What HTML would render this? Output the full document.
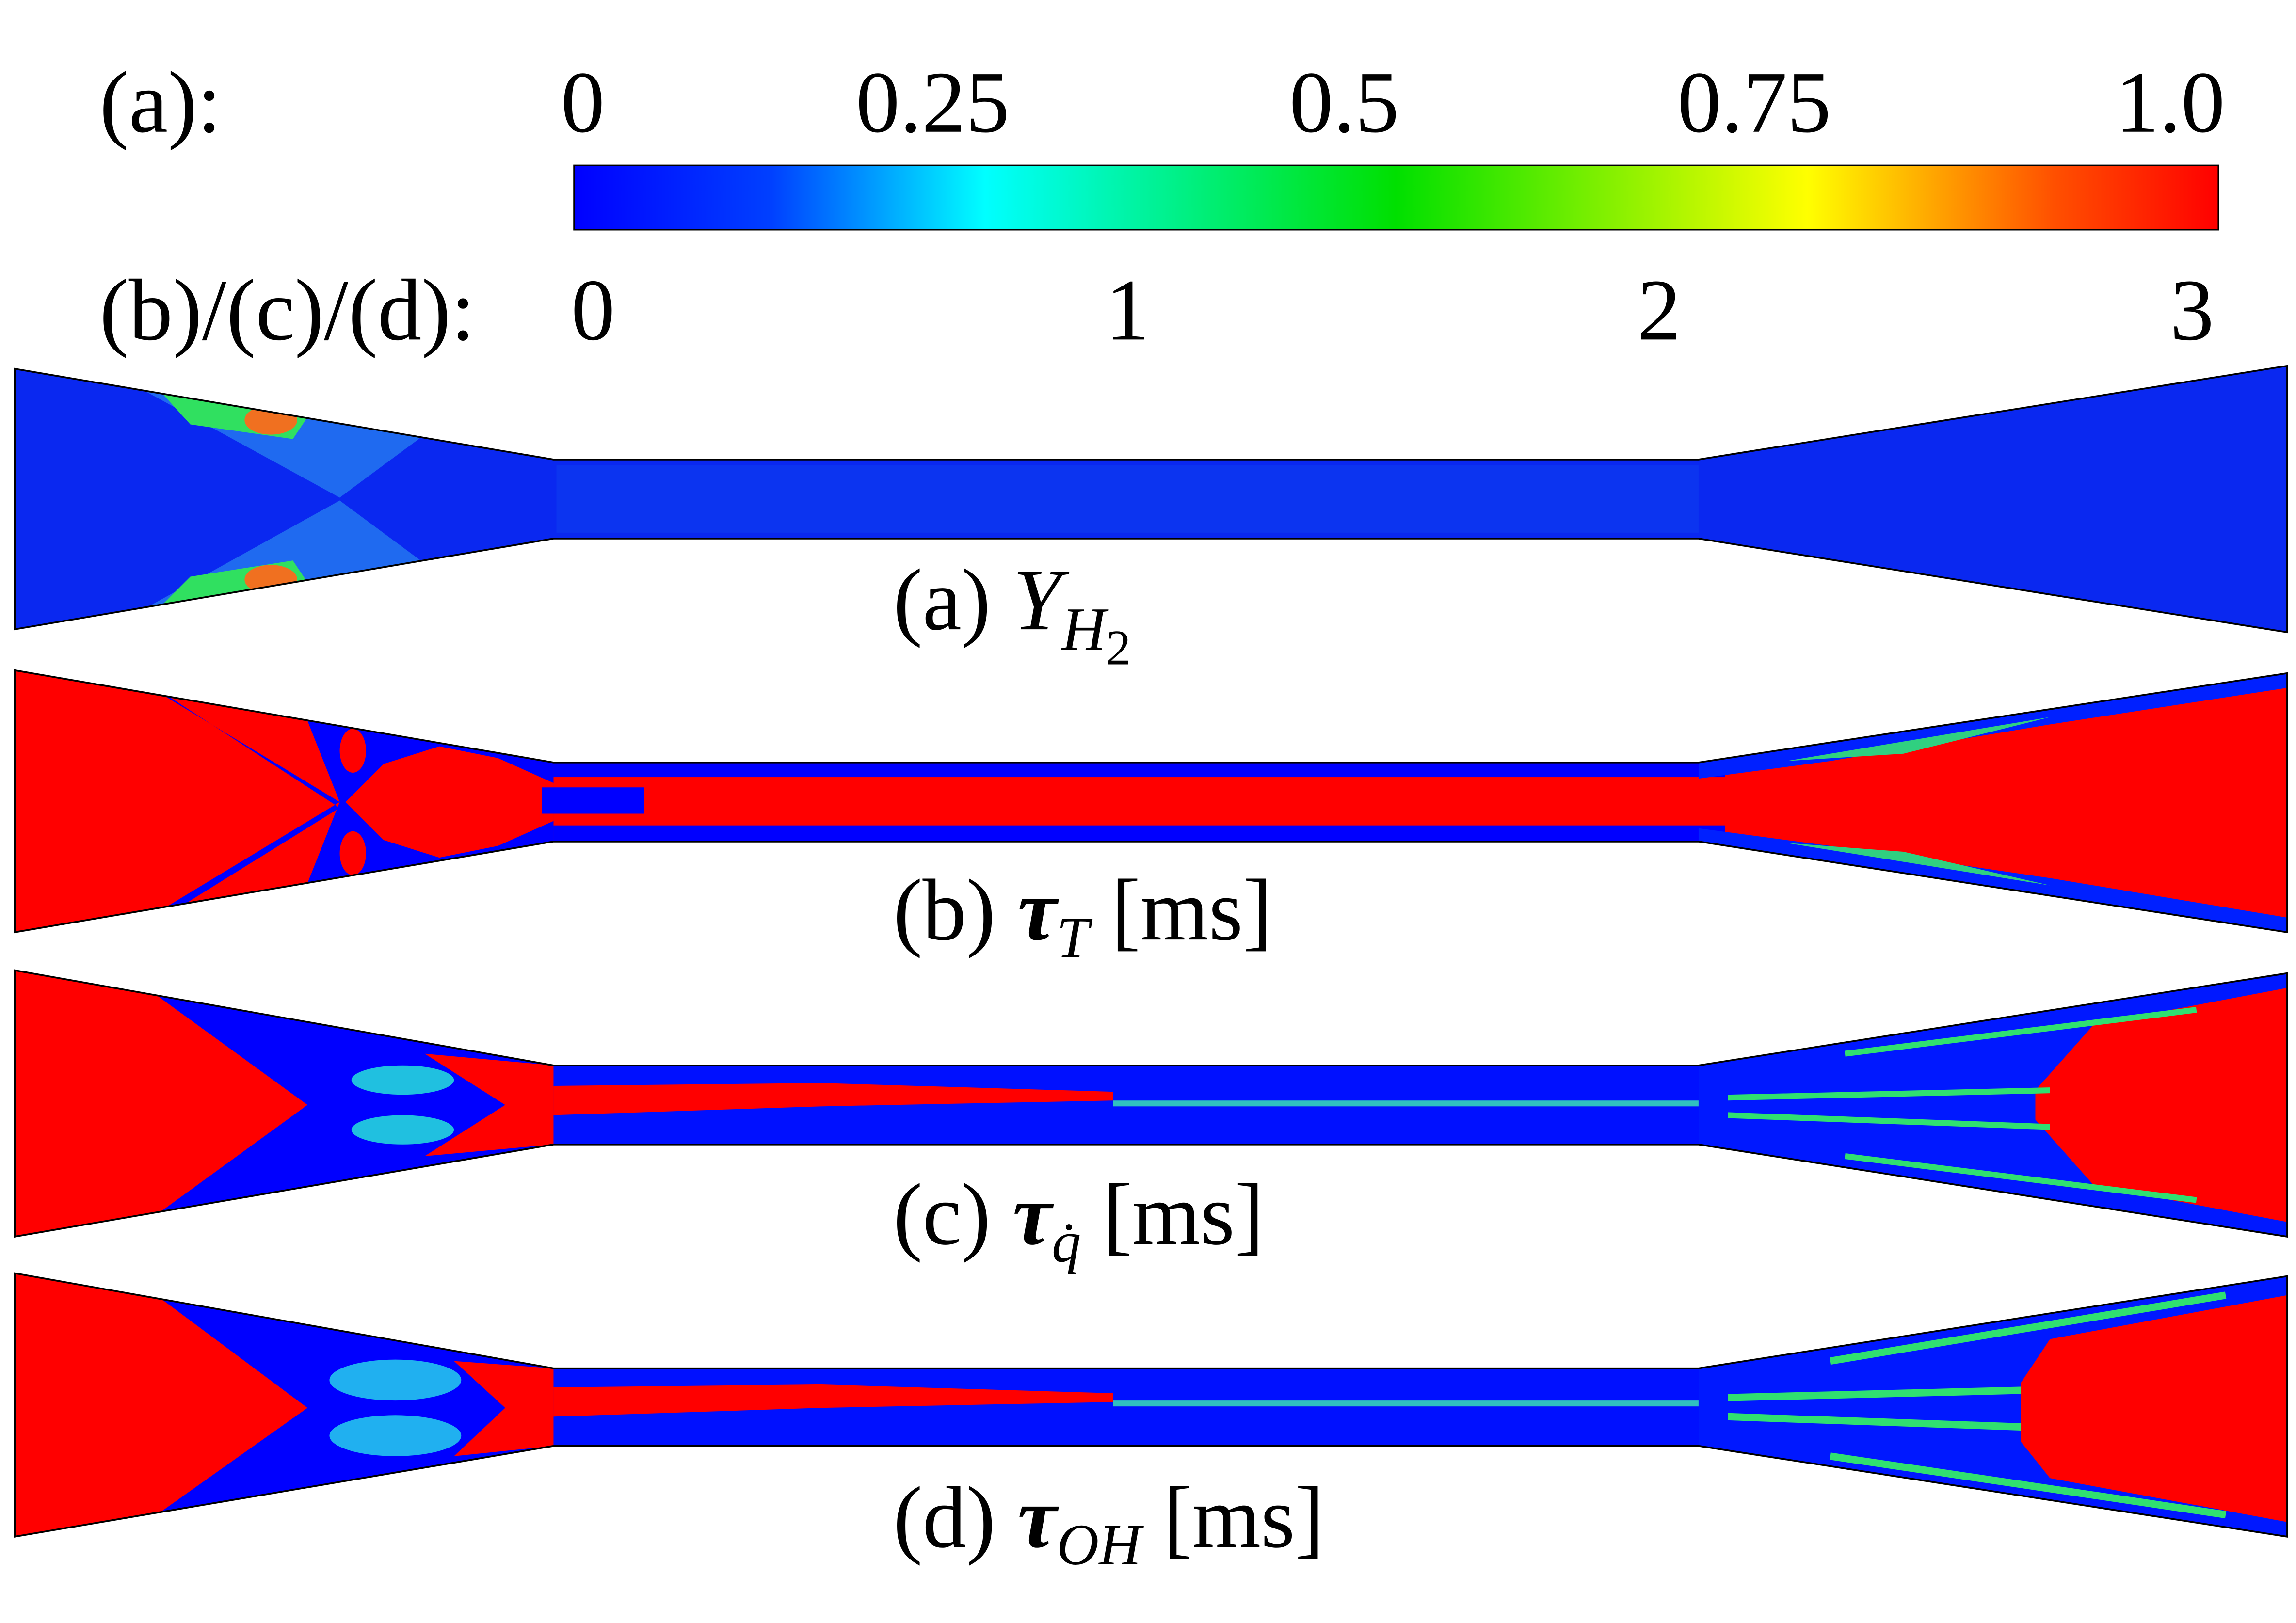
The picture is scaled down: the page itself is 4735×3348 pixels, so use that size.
<!DOCTYPE html>
<html><head><meta charset="utf-8"><style>
html,body{margin:0;padding:0;background:#fff;}
svg{display:block;}
text{font-family:"Liberation Serif",serif;fill:#000;}
</style></head><body>
<svg width="4735" height="3348" viewBox="0 0 1568 1109" preserveAspectRatio="none" xmlns="http://www.w3.org/2000/svg">
<defs>
<linearGradient id="cb" x1="0" x2="1" y1="0" y2="0">
<stop offset="0" stop-color="#0000ff"/>
<stop offset="0.12" stop-color="#0040ff"/>
<stop offset="0.25" stop-color="#00ffff"/>
<stop offset="0.5" stop-color="#00e000"/>
<stop offset="0.75" stop-color="#ffff00"/>
<stop offset="0.9" stop-color="#ff5000"/>
<stop offset="1" stop-color="#ff0000"/>
</linearGradient>
<clipPath id="pa"><polygon points="10,252 378,314 1160,314 1562,250 1562,432 1160,368 378,368 10,430"/></clipPath>
<clipPath id="pb"><polygon points="10,458 378,521 1160,521 1562,460 1562,637 1160,575 378,575 10,637"/></clipPath>
<clipPath id="pc"><polygon points="10,663 378,728 1160,728 1562,665 1562,845 1160,782 378,782 10,845"/></clipPath>
<clipPath id="pd"><polygon points="10,870 378,935 1160,935 1562,872 1562,1050 1160,988 378,988 10,1050"/></clipPath>
</defs>

<text x="68" y="90" font-size="60">(a):</text>
<text x="398" y="90" font-size="60" text-anchor="middle">0</text>
<text x="637" y="90" font-size="60" text-anchor="middle">0.25</text>
<text x="918" y="90" font-size="60" text-anchor="middle">0.5</text>
<text x="1198" y="90" font-size="60" text-anchor="middle">0.75</text>
<text x="1482" y="90" font-size="60" text-anchor="middle">1.0</text>
<rect x="392" y="113" width="1123" height="44" fill="url(#cb)" stroke="#000" stroke-width="1"/>
<text x="68" y="232" font-size="60">(b)/(c)/(d):</text>
<text x="405" y="232" font-size="60" text-anchor="middle">0</text>
<text x="770" y="232" font-size="60" text-anchor="middle">1</text>
<text x="1133" y="232" font-size="60" text-anchor="middle">2</text>
<text x="1497" y="232" font-size="60" text-anchor="middle">3</text>

<!-- Panel a -->
<g clip-path="url(#pa)">
<rect x="0" y="240" width="1568" height="200" fill="#0a28f0"/>
<polygon points="95,265 290,297 232,340 " fill="#1f6af0"/>
<polygon points="95,418 290,385 232,342" fill="#1f6af0"/>
<polygon points="110,268 210,285 200,300 130,290" fill="#30e060"/>
<polygon points="110,414 210,398 200,383 130,394" fill="#30e060"/>
<ellipse cx="185" cy="287" rx="18" ry="10" fill="#f07020"/>
<ellipse cx="185" cy="396" rx="18" ry="10" fill="#f07020"/>
<rect x="380" y="318" width="780" height="46" fill="#0c34f0"/>
</g>
<polygon points="10,252 378,314 1160,314 1562,250 1562,432 1160,368 378,368 10,430" fill="none" stroke="#000" stroke-width="1.2"/>
<text x="610" y="430" font-size="60">(a) <tspan font-style="italic">Y</tspan><tspan font-style="italic" font-size="42" dy="14">H</tspan><tspan font-size="34" dy="10">2</tspan></text>

<!-- Panel b -->
<g clip-path="url(#pb)">
<rect x="0" y="450" width="1568" height="200" fill="#ff0000"/>
<polygon points="205,480 378,521 378,575 205,616 232,548" fill="#0000ff"/>
<polygon points="236,548 262,522 300,510 340,518 378,535 378,561 340,578 300,586 262,574" fill="#ff0000"/>
<polygon points="90,462 232,548 90,634 100,634 232,552 100,466" fill="#0000ff"/>
<ellipse cx="241" cy="513" rx="9" ry="15" fill="#ff0000"/>
<ellipse cx="241" cy="583" rx="9" ry="15" fill="#ff0000"/>
<rect x="378" y="521" width="800" height="10" fill="#0000ff"/>
<rect x="378" y="564" width="800" height="11" fill="#0000ff"/>
<polygon points="370,538 440,538 440,556 370,556" fill="#0000ff"/>
<polygon points="1160,521 1562,460 1562,470 1400,495 1250,520 1160,532" fill="#0020ff"/>
<polygon points="1160,575 1562,637 1562,627 1400,600 1250,578 1160,566" fill="#0020ff"/>
<polygon points="1220,520 1400,490 1300,515" fill="#30d080"/>
<polygon points="1220,576 1400,605 1300,582" fill="#30d080"/>
</g>
<polygon points="10,458 378,521 1160,521 1562,460 1562,637 1160,575 378,575 10,637" fill="none" stroke="#000" stroke-width="1.2"/>
<text x="610" y="642" font-size="60">(b) <tspan font-style="italic" font-weight="bold">τ</tspan><tspan font-style="italic" font-size="40" dy="12">T</tspan><tspan dy="-12"> [ms]</tspan></text>

<!-- Panel c -->
<g clip-path="url(#pc)">
<rect x="0" y="655" width="1568" height="200" fill="#ff0000"/>
<polygon points="100,675 378,728 378,782 100,835 210,755" fill="#0000ff"/>
<polygon points="290,720 378,728 378,782 290,790 345,755" fill="#ff0000"/>
<ellipse cx="275" cy="738" rx="35" ry="10" fill="#20c0e0"/>
<ellipse cx="275" cy="772" rx="35" ry="10" fill="#20c0e0"/>
<rect x="378" y="728" width="800" height="54" fill="#0010ff"/>
<polygon points="378,742 560,740 760,746 760,752 560,756 378,762" fill="#ff0000"/>
<rect x="760" y="752" width="400" height="4" fill="#30c0c0"/>
<polygon points="1160,728 1562,665 1562,845 1160,782" fill="#0018ff"/>
<polygon points="1390,745 1430,700 1562,675 1562,835 1430,810 1390,765" fill="#ff0000"/>
<path d="M1260,720 L1500,690 M1260,790 L1500,820 M1180,750 L1400,745 M1180,762 L1400,770" stroke="#30e070" stroke-width="4" fill="none"/>
</g>
<polygon points="10,663 378,728 1160,728 1562,665 1562,845 1160,782 378,782 10,845" fill="none" stroke="#000" stroke-width="1.2"/>
<text x="610" y="850" font-size="60">(c) <tspan font-style="italic" font-weight="bold">τ</tspan><tspan font-style="italic" font-size="40" dy="12">q̇</tspan><tspan dy="-12"> [ms]</tspan></text>

<!-- Panel d -->
<g clip-path="url(#pd)">
<rect x="0" y="860" width="1568" height="200" fill="#ff0000"/>
<polygon points="100,880 378,935 378,988 100,1040 210,962" fill="#0000ff"/>
<ellipse cx="270" cy="943" rx="45" ry="14" fill="#20b0f0"/>
<ellipse cx="270" cy="981" rx="45" ry="14" fill="#20b0f0"/>
<polygon points="310,930 378,935 378,988 310,995 345,962" fill="#ff0000"/>
<rect x="378" y="935" width="800" height="53" fill="#0010ff"/>
<polygon points="378,948 560,946 760,952 760,958 560,962 378,968" fill="#ff0000"/>
<rect x="760" y="957" width="400" height="4" fill="#30c0c0"/>
<polygon points="1160,935 1562,872 1562,1050 1160,988" fill="#0018ff"/>
<polygon points="1380,945 1400,915 1562,885 1562,1040 1400,1010 1380,985" fill="#ff0000"/>
<path d="M1250,930 L1520,885 M1250,995 L1520,1035 M1180,955 L1380,950 M1180,968 L1380,975" stroke="#30e070" stroke-width="5" fill="none"/>
</g>
<polygon points="10,870 378,935 1160,935 1562,872 1562,1050 1160,988 378,988 10,1050" fill="none" stroke="#000" stroke-width="1.2"/>
<text x="610" y="1057" font-size="60">(d) <tspan font-style="italic" font-weight="bold">τ</tspan><tspan font-style="italic" font-size="40" dy="12">OH</tspan><tspan dy="-12"> [ms]</tspan></text>
</svg>
</body></html>
